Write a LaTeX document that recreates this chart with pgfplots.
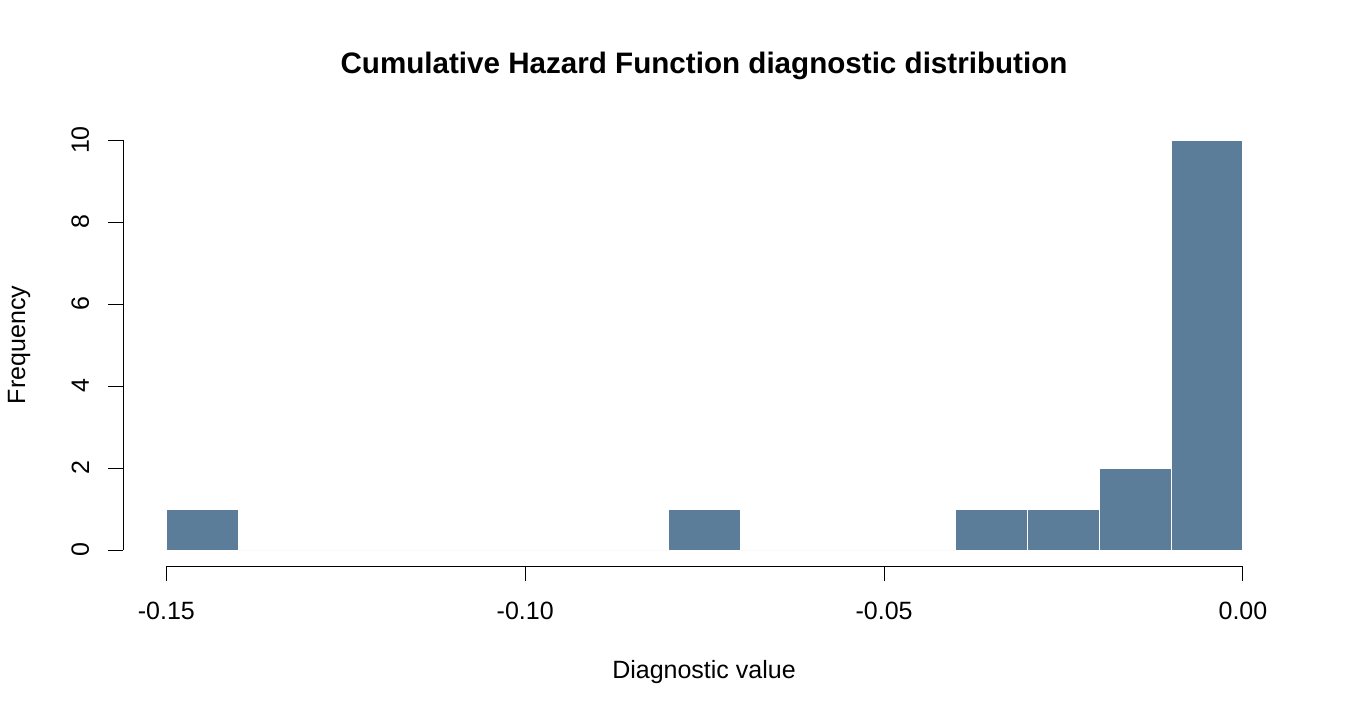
\documentclass[border=0pt]{standalone}
\usepackage{fontspec}
\setmainfont{Liberation Sans}
\usepackage{pgfplots}
\pgfplotsset{compat=1.18}
\definecolor{barblue}{HTML}{5B7D99}

\begin{document}
\begin{tikzpicture}
	% page is 1350 x 720 px, 1 px = 0.5pt, origin bottom-left
	\useasboundingbox (0pt,0pt) rectangle (675pt,360pt);
	\begin{axis}[
		at={(61.65pt,76.8pt)}, anchor=south west,
		scale only axis, width=581.35pt, height=221.4pt,
		xmin=-0.156, xmax=0.006, ymin=-0.4, ymax=10.4,
		axis x line*=bottom, axis y line*=left,
		axis line style={draw=none},
		clip=false,
		xtick={-0.15,-0.10,-0.05,0},
		xticklabels={-0.15,-0.10,-0.05,0.00},
		ytick={0,2,4,6,8,10},
		tick align=outside, major tick length=7.5pt,
		tick style={black, line width=0.5pt},
		/pgf/number format/assume math mode=true,
		ticklabel style={font=\fontsize{12.5}{14}\selectfont},
		xticklabel style={anchor=center, yshift=-14.5pt},
		yticklabel style={rotate=90, anchor=center, yshift=14pt},
	]
		\addplot[ybar interval, fill=barblue, draw=white, line width=0.5pt] coordinates {
			(-0.15,1) (-0.14,0) (-0.13,0) (-0.12,0) (-0.11,0) (-0.10,0)
			(-0.09,0) (-0.08,1) (-0.07,0) (-0.06,0) (-0.05,0) (-0.04,1)
			(-0.03,1) (-0.02,2) (-0.01,10) (0,10)
		};
		\draw[black, line width=0.5pt] (axis cs:-0.15,-0.4) -- (axis cs:0,-0.4);
		\draw[black, line width=0.5pt] (axis cs:-0.156,0) -- (axis cs:-0.156,10);
	\end{axis}
	\node[font=\bfseries\fontsize{14.8}{17}\selectfont] at (352pt,327pt) {Cumulative Hazard Function diagnostic distribution};
	\node[font=\fontsize{12.5}{14}\selectfont] at (352pt,24pt) {Diagnostic value};
	\node[font=\fontsize{12.5}{14}\selectfont, rotate=90] at (9.5pt,187.5pt) {Frequency};
\end{tikzpicture}
\end{document}
